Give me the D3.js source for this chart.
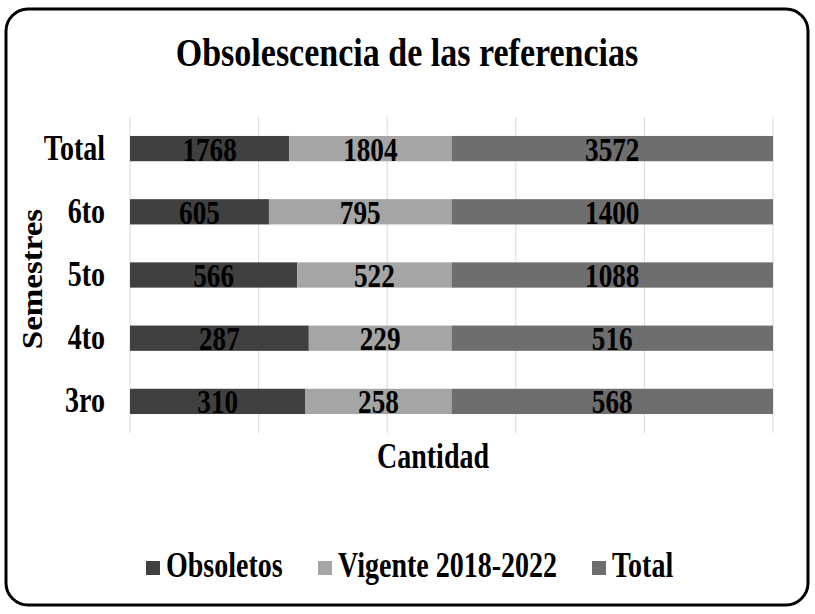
<!DOCTYPE html>
<html>
<head>
<meta charset="utf-8">
<script src="https://cdn.jsdelivr.net/npm/d3@7"></script>
<style>
  html, body { margin: 0; padding: 0; background: #fff; }
</style>
</head>
<body>
<div id="chart"></div>
<script>
  // Data
  var categories = ["Total", "6to", "5to", "4to", "3ro"];
  var seriesNames = ["Obsoletos", "Vigente 2018-2022", "Total"];
  var obsoletos = [1768, 605, 566, 287, 310];
  var vigente = [1804, 795, 522, 229, 258];
  var totales = [3572, 1400, 1088, 516, 568];
  var xTicks = [0, 0.2, 0.4, 0.6, 0.8, 1];

  var FONT = "'Liberation Serif', 'Times New Roman', serif";
  var SX = 0.8; // condensed look
  var COLORS = ["#404040", "#a5a5a5", "#6e6e6e"];

  var W = 815, H = 614;
  var M = { top: 117, right: 42, bottom: 181, left: 130 };
  var width = W - M.left - M.right;
  var height = H - M.top - M.bottom;

  var rows = categories.map(function (c, i) {
    return { cat: c, s0: obsoletos[i], s1: vigente[i], s2: totales[i] };
  });
  var keys = ["s0", "s1", "s2"];
  var stacked = d3.stack().keys(keys).offset(d3.stackOffsetExpand)(rows);

  var svg = d3.select("#chart").append("svg")
    .attr("width", W).attr("height", H)
    .style("display", "block");

  // condensed text helper
  function ctext(parent, x, y, str, size, anchor, sx) {
    return parent.append("text")
      .attr("transform", "translate(" + x + "," + y + ") scale(" + (sx || SX) + ",1)")
      .attr("text-anchor", anchor || "middle")
      .attr("font-family", FONT).attr("font-weight", "bold")
      .attr("font-size", size + "px").attr("fill", "#000")
      .text(str);
  }

  // Frame
  svg.append("rect")
    .attr("x", 6).attr("y", 9).attr("width", W - 13).attr("height", H - 18)
    .attr("rx", 22).attr("ry", 22)
    .attr("fill", "#fff").attr("stroke", "#000").attr("stroke-width", 3);

  // Title
  ctext(svg, 407, 66, "Obsolescencia de las referencias", 41, "middle", 0.83);

  var g = svg.append("g").attr("transform", "translate(" + M.left + "," + M.top + ")");

  var x = d3.scaleLinear().domain([0, 1]).range([0, width]);
  var y = d3.scaleBand().domain(categories).range([0, height]).paddingInner(0.6).paddingOuter(0.3);

  // Gridlines
  g.selectAll("line.grid").data(xTicks).enter().append("line")
    .attr("class", "grid")
    .attr("x1", function (d) { return x(d); }).attr("x2", function (d) { return x(d); })
    .attr("y1", 0).attr("y2", height)
    .attr("stroke", "#d9d9d9").attr("stroke-width", 1);

  // Bars
  var layers = g.selectAll("g.layer").data(stacked).enter().append("g")
    .attr("class", "layer")
    .attr("fill", function (d, i) { return COLORS[i]; });

  layers.selectAll("rect").data(function (d) { return d; }).enter().append("rect")
    .attr("x", function (d) { return x(d[0]); })
    .attr("width", function (d) { return x(d[1]) - x(d[0]); })
    .attr("y", function (d) { return y(d.data.cat); })
    .attr("height", y.bandwidth());

  // Value labels
  stacked.forEach(function (layer) {
    layer.forEach(function (d) {
      ctext(g, x((d[0] + d[1]) / 2), y(d.data.cat) + y.bandwidth() / 2 + 12,
        d.data[layer.key], 34);
    });
  });

  // Category labels
  categories.forEach(function (c) {
    ctext(g, -25, y(c) + y.bandwidth() / 2 + 11, c, 35, "end");
  });

  // Axis titles
  ctext(svg, 433, 468, "Cantidad", 35);
  svg.append("text")
    .attr("transform", "translate(42,279) rotate(-90) scale(1.1,1)")
    .attr("text-anchor", "middle")
    .attr("font-family", FONT).attr("font-weight", "bold")
    .attr("font-size", "30px").attr("fill", "#000")
    .text("Semestres");

  // Legend
  var legX = [146, 318, 592];
  seriesNames.forEach(function (name, i) {
    svg.append("rect")
      .attr("x", legX[i]).attr("y", 561).attr("width", 14).attr("height", 14)
      .attr("fill", COLORS[i]);
    ctext(svg, legX[i] + 20, 577, name, 35, "start");
  });
</script>
</body>
</html>
